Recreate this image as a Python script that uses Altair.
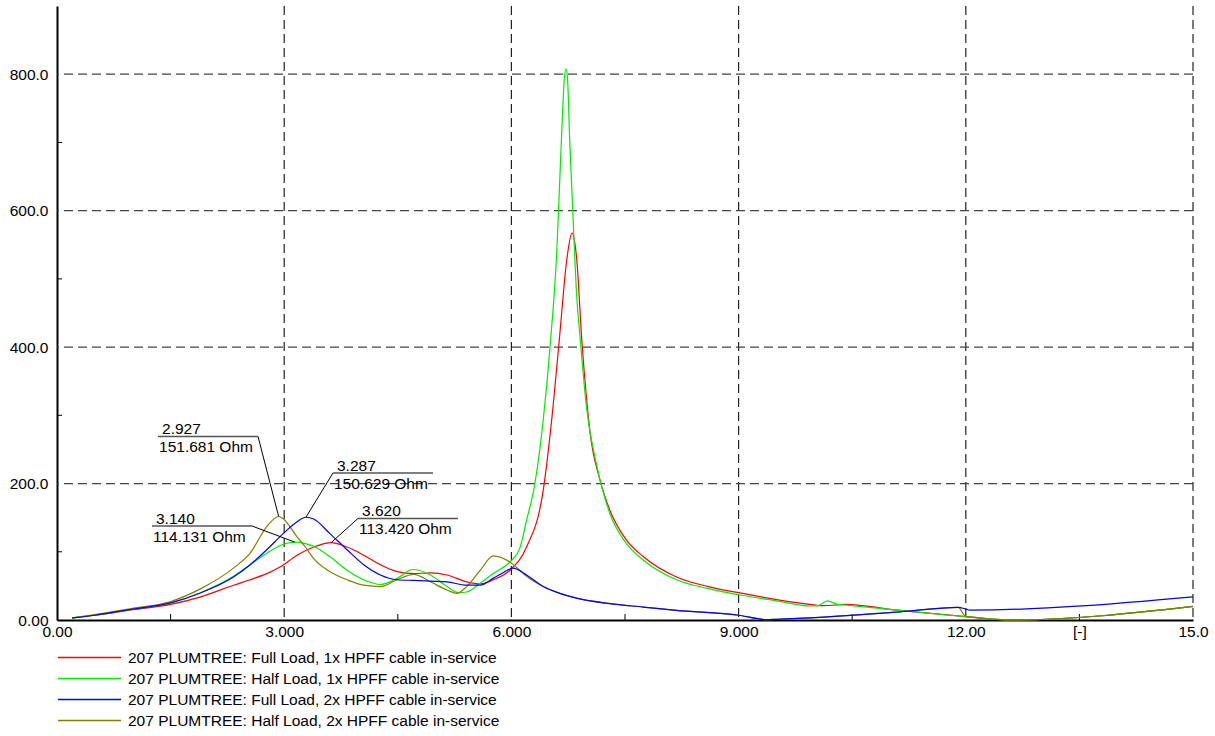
import altair as alt
import pandas as pd

FONT = "Liberation Sans"
FS = 15.5

names = [
    "207 PLUMTREE: Full Load, 1x HPFF cable in-service",
    "207 PLUMTREE: Half Load, 1x HPFF cable in-service",
    "207 PLUMTREE: Full Load, 2x HPFF cable in-service",
    "207 PLUMTREE: Half Load, 2x HPFF cable in-service",
]
colors = ["#ff0000", "#00ee00", "#0000ff", "#808000"]

red_x = [0.2, 0.5, 1.0, 1.5, 1.9, 2.33, 2.55, 2.77, 2.95, 3.17, 3.39, 3.62, 3.83, 4.05, 4.27,
         4.49, 4.71, 4.93, 5.15, 5.41, 5.59, 5.76, 5.98, 6.2, 6.42, 6.55, 6.64, 6.73, 6.80,
         6.86, 6.93, 7.04, 7.17, 7.30, 7.52, 7.74, 8.18, 8.6, 9.0, 9.5, 9.94, 10.1, 10.3,
         10.4, 11.13, 12.0, 12.6, 15.0]
red_v = [3, 7, 15, 23, 34, 51, 59, 68, 78, 95, 107, 113.4, 107, 95, 81,
         71, 68, 69, 66, 56, 53, 59, 73, 107, 190, 313, 420, 527, 567,
         532, 410, 274, 205, 161, 117, 93, 63, 49, 40, 30, 23, 21, 22,
         23, 14, 5, 0, 20]

green_x = [0.2, 0.5, 1.0, 1.5, 1.9, 2.33, 2.55, 2.77, 2.99, 3.14, 3.28, 3.39, 3.6, 3.83, 4.05,
           4.27, 4.49, 4.7, 4.93, 5.15, 5.3, 5.41, 5.59, 5.76, 5.98, 6.11, 6.2, 6.31, 6.42,
           6.51, 6.60, 6.66, 6.70, 6.72, 6.74, 6.77, 6.81, 6.86, 6.91, 6.99, 7.13, 7.30,
           7.52, 7.74, 8.18, 8.6, 9.0, 9.5, 9.94, 10.05, 10.17, 10.3, 10.4, 11.13, 12.0,
           12.6, 15.0]
green_v = [3, 7, 16, 25, 40, 64, 81, 98, 111, 114.1, 112, 108, 93, 73, 59,
           52, 61, 74, 66, 49, 40, 41, 54, 68, 85, 105, 146, 200, 293,
           400, 542, 703, 795, 808, 795, 703, 600, 479, 410, 313, 225, 156,
           112, 88, 59, 46, 37, 28, 20.5, 21, 28, 23, 22, 14, 5,
           0, 20]

blue_x = [0.2, 0.5, 1.0, 1.5, 1.9, 2.33, 2.55, 2.77, 2.99, 3.17, 3.287, 3.39, 3.6, 3.83, 4.05,
          4.27, 4.49, 4.71, 4.93, 5.15, 5.41, 5.59, 5.76, 5.9, 6.02, 6.2, 6.42, 6.64, 6.86,
          7.30, 7.74, 8.18, 9.0, 9.37, 9.5, 11.13, 11.9, 12.0, 12.05, 15.0]
blue_v = [3, 7, 16, 25, 40, 63, 81, 103, 127, 144, 150.6, 148, 127, 103, 81,
          66, 59, 58, 57, 56, 51, 51, 61, 70, 76, 66, 49, 39, 32,
          24, 19, 14, 7, 0.5, 1, 12, 18.5, 16, 14.5, 34]

olive_x = [0.2, 0.5, 1.0, 1.5, 1.9, 2.33, 2.55, 2.77, 2.927, 2.99, 3.17, 3.28, 3.39, 3.6, 3.83,
           4.05, 4.27, 4.49, 4.71, 4.93, 5.15, 5.28, 5.41, 5.59, 5.76, 5.98, 6.11, 6.2, 6.42,
           6.64, 6.86, 7.30, 7.74, 8.18, 9.0, 9.37, 9.5, 11.13, 11.9, 12.0, 12.6, 15.0]
olive_v = [3, 8, 17, 27, 46, 76, 98, 137, 151.7, 148, 122, 107, 90, 71, 59,
           51, 49, 59, 67, 56, 44, 39, 49, 73, 94, 85, 73, 64, 49,
           39, 32, 24, 19, 14, 7, 0.5, 1, 12, 18.5, 5, 0, 20]

series_x = [red_x, green_x, blue_x, olive_x]
series_v = [red_v, green_v, blue_v, olive_v]

x_tick_vals = [0, 3, 6, 9, 12, 13.5, 15]
x_tick_labels = ["0.00", "3.000", "6.000", "9.000", "12.00", "[-]", "15.0"]
y_tick_vals = [0, 200, 400, 600, 800]
y_tick_labels = ["0.00", "200.0", "400.0", "600.0", "800.0"]
grid_x = [3, 6, 9, 12, 15]
grid_y = [200, 400, 600, 800]
minor_x = [1.5, 4.5, 7.5, 10.5, 13.5]
minor_y = [100, 300, 500, 700]

# annotations: marked point, label underline (data units), texts
ann_x = [2.927, 3.287, 3.140, 3.620]
ann_v = [151.681, 150.629, 114.131, 113.420]
ann_lx0 = [1.334, 3.644, 1.254, 3.974]
ann_ly = [269.0, 215.5, 137.8, 148.8]
ann_side = ["right", "left", "right", "left"]
ann_t1 = ["2.927", "3.287", "3.140", "3.620"]
ann_t2 = ["151.681 Ohm", "150.629 Ohm", "114.131 Ohm", "113.420 Ohm"]
label_len = 1.3204

rows = []
for name, xs, vs in zip(names, series_x, series_v):
    assert len(xs) == len(vs), name
    for i, (x, v) in enumerate(zip(xs, vs)):
        rows.append({"series": name, "x": x, "v": v, "i": i})
df = pd.DataFrame(rows)

ann = pd.DataFrame({
    "x": ann_x, "v": ann_v, "lx0": ann_lx0,
    "lx1": [a + label_len for a in ann_lx0],
    "ly": ann_ly, "t1": ann_t1, "t2": ann_t2,
})
ann["lxa"] = [r if s == "right" else l for l, r, s in zip(ann["lx0"], ann["lx1"], ann_side)]


def label_expr(vals, labels):
    expr = "''"
    for v, l in reversed(list(zip(vals, labels))):
        expr = f"datum.value == {v} ? '{l}' : ({expr})"
    return expr


xscale = alt.Scale(domain=[0, 15], nice=False, zero=False)
yscale = alt.Scale(domain=[0, 900], nice=False, zero=False)

x_axis = alt.Axis(values=x_tick_vals, labelExpr=label_expr(x_tick_vals, x_tick_labels),
                  title=None, grid=False, ticks=False, tickSize=0, domainColor="black",
                  domainWidth=2, labelFontSize=FS, labelFont=FONT, labelColor="black",
                  labelPadding=4, labelFlush=False, labelOverlap=False)
y_axis = alt.Axis(values=y_tick_vals, labelExpr=label_expr(y_tick_vals, y_tick_labels),
                  title=None, grid=False, ticks=False, tickSize=0, domainColor="black",
                  domainWidth=2, labelFontSize=FS, labelFont=FONT, labelColor="black",
                  labelPadding=9, labelFlush=False, labelOverlap=False)

color_enc = alt.Color(
    "series:N",
    scale=alt.Scale(domain=names, range=colors),
    legend=alt.Legend(title=None, orient="none", legendX=0, legendY=641, direction="vertical",
                      symbolType="stroke", symbolSize=3969, symbolStrokeWidth=1.3,
                      clipHeight=21, rowPadding=0, padding=0, labelFontSize=FS,
                      labelFont=FONT, labelColor="black", labelLimit=0, labelOffset=6),
)

vgrid = alt.Chart(pd.DataFrame({"x": grid_x})).mark_rule(
    color="#222222", strokeWidth=1.2, strokeDash=[9, 5]
).encode(x=alt.X("x:Q", scale=xscale, axis=x_axis))
hgrid = alt.Chart(pd.DataFrame({"v": grid_y})).mark_rule(
    color="#444444", strokeWidth=1.2, strokeDash=[9, 5]
).encode(y=alt.Y("v:Q", scale=yscale, axis=y_axis))
xminor = alt.Chart(pd.DataFrame({"x": minor_x})).mark_rule(color="black", strokeWidth=1).encode(
    x=alt.X("x:Q", scale=xscale, title=None), y=alt.value(608), y2=alt.value(614))
yminor = alt.Chart(pd.DataFrame({"v": minor_y})).mark_rule(color="black", strokeWidth=1).encode(
    y=alt.Y("v:Q", scale=yscale, title=None), x=alt.value(0), x2=alt.value(5))

draw_order = [0, 1, 3, 2]
line_layers = []
for k in draw_order:
    line_layers.append(
        alt.Chart(df).transform_filter(alt.datum.series == names[k]).mark_line(
            strokeWidth=1.2, interpolate="monotone"
        ).encode(
            x=alt.X("x:Q", scale=xscale, title=None),
            y=alt.Y("v:Q", scale=yscale, title=None),
            color=color_enc,
            order="i:Q",
        )
    )

ann_base = alt.Chart(ann)
leader = ann_base.mark_rule(color="black", strokeWidth=1).encode(
    x=alt.X("x:Q", scale=xscale, title=None), y=alt.Y("v:Q", scale=yscale, title=None),
    x2="lxa:Q", y2="ly:Q")
underline = ann_base.mark_rule(color="#555555", strokeWidth=1.5).encode(
    x=alt.X("lx0:Q", scale=xscale, title=None), x2="lx1:Q",
    y=alt.Y("ly:Q", scale=yscale, title=None))
text1 = ann_base.mark_text(align="left", baseline="alphabetic", dx=4, dy=-2, fontSize=FS,
                           font=FONT, color="black").encode(
    x=alt.X("lx0:Q", scale=xscale, title=None), y=alt.Y("ly:Q", scale=yscale, title=None),
    text="t1:N")
text2 = ann_base.mark_text(align="left", baseline="alphabetic", dx=1, dy=16, fontSize=FS,
                           font=FONT, color="black").encode(
    x=alt.X("lx0:Q", scale=xscale, title=None), y=alt.Y("ly:Q", scale=yscale, title=None),
    text="t2:N")

chart = alt.layer(
    vgrid, hgrid, xminor, yminor, *line_layers, leader, underline, text1, text2
).properties(
    width=1136, height=614,
    padding={"left": 57, "top": 6, "right": 22, "bottom": 116},
    autosize=alt.AutoSizeParams(type="none"),
    background="white",
).configure_view(strokeWidth=0)

chart.save("out.html", embed_options={"renderer": "svg", "actions": False})
